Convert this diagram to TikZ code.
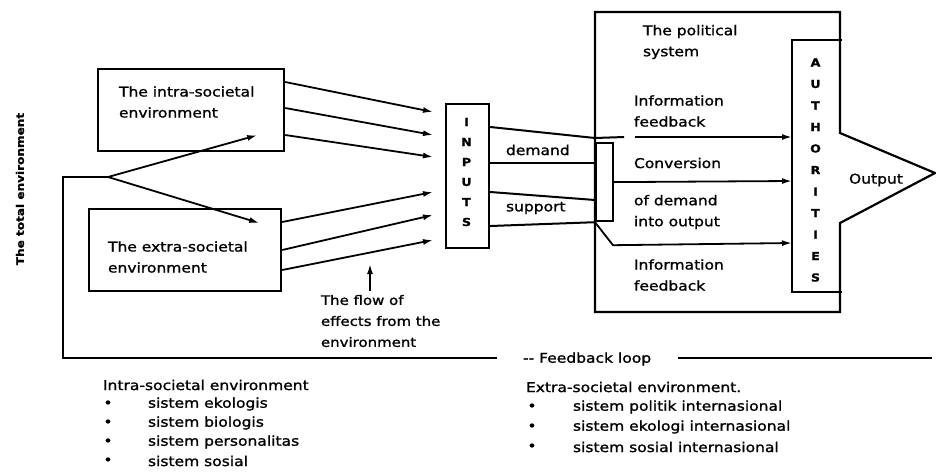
\documentclass[tikz,border=0pt]{standalone}
\usepackage{fontspec}
\setmainfont{DejaVu Sans}[FakeStretch=1.15,FakeBold=1.2]
\usetikzlibrary{arrows.meta,calc}
\begin{document}
\begin{tikzpicture}[x=1pt,y=-1pt,line width=2pt,
  box/.style={draw,line width=2.2pt,inner sep=0pt},
  arr/.style={-{Latex[length=10pt,width=6pt]},line width=1.8pt},
  txt/.style={font=\fontsize{13.5}{21}\selectfont,align=left,inner sep=0pt,anchor=west},
  small/.style={font=\fontsize{11}{12}\selectfont\bfseries,inner sep=0pt},
  bul/.style={font=\fontsize{13.5}{16}\selectfont,inner sep=0pt}]
\useasboundingbox (0,0) rectangle (936,472);
\fill[white] (0,0) rectangle (936,472);

% environment boxes
\node[box,minimum width=186pt,minimum height=82pt,anchor=north west] (intra) at (97,68) {};
\node[box,minimum width=192pt,minimum height=82pt,anchor=north west] (extra) at (88,208) {};
\node[txt] (intratxt) at (118,102) {The intra-societal\\environment};
\node[txt] (extratxt) at (107,257) {The extra-societal\\environment};

% inputs box
\node[box,minimum width=43pt,minimum height=144pt,anchor=north west] (inputs) at (445,103) {};
\foreach \l [count=\i] in {I,N,P,U,T,S}
  \node[small] (in\i) at (466.5,102+20*\i) {\l};

% arrows from environments to inputs
\draw[arr] ($(intra.north east)+(0,14)$) -- ($(inputs.north west)+(-12,9)$);
\draw[arr] ($(intra.north east)+(0,40)$) -- ($(inputs.north west)+(-12,32)$);
\draw[arr] ($(intra.north east)+(0,67)$) -- ($(inputs.north west)+(-12,54)$);
\draw[arr] ($(extra.north east)+(0,14)$) -- ($(inputs.north west)+(-12,89)$);
\draw[arr] ($(extra.north east)+(0,42)$) -- ($(inputs.north west)+(-12,112)$);
\draw[arr] ($(extra.north east)+(0,62)$) -- ($(inputs.north west)+(-12,137)$);

% flow of effects
\coordinate (flowbot) at (370,291);
\draw[arr] (flowbot) -- (370,264);
\node[txt,anchor=north west,font=\fontsize{13}{21}\selectfont] (flow) at (320,294) {The flow of\\effects from the\\environment};

% political system outline
\draw[line width=2.2pt] (595,12) -- (840,12) -- (840,133) -- (935,173) -- (840,223) -- (840,312) -- (595,312) -- cycle;
\node[txt] (output) at (848,180) {Output};

% authorities
\node[inner sep=0pt,minimum width=48pt,minimum height=250pt,anchor=north west] (auth) at (792,40) {};
\draw[line width=2.2pt] (auth.north east) -- (auth.north west) -- (auth.south west) -- (auth.south east);
\foreach \l [count=\i] in {A,U,T,H,O,R,I,T,I,E,S}
  \node[small] (au\i) at (815.5,41+21.5*\i) {\l};

% conversion box
\node[box,minimum width=17pt,minimum height=78pt,anchor=north west] (conv) at (595,142) {};

% inputs to conversion
\draw ($(inputs.north east)+(0,24)$) -- ($(conv.north west)+(0,-4)$) -- ($(conv.north east)+(10,-5)$);
\draw ($(inputs.north east)+(0,60)$) -- ($(conv.north west)+(0,21)$);
\draw ($(inputs.north east)+(0,89)$) -- ($(conv.north west)+(0,58)$);
\draw ($(inputs.north east)+(0,123)$) -- ($(conv.south west)+(0,0)$);
\node[txt] (demand) at (505,150) {demand};
\node[txt] (support) at (505,208) {support};

% internal arrows
\draw[arr] ($(conv.north east)+(21,-5)$) -- ($(auth.north west)+(0,97)$);
\draw[arr] (conv.east) -- ($(auth.north west)+(0,141)$);
\draw[arr] (conv.south west) -- ($(conv.south west)+(18,23)$) -- ($(auth.north west)+(0,203)$);

% political system texts
\node[txt] (ps) at (642,42) {The political\\system};
\node[txt] (fb1) at (633,111) {Information\\feedback};
\node[txt] (cv1) at (633,163) {Conversion};
\node[txt] (cv2) at (633,212) {of demand\\into output};
\node[txt] (fb2) at (633,275) {Information\\feedback};

% feedback loop
\coordinate (fb) at (108,177);
\coordinate (fbl) at (63,177);
\coordinate (fbc) at (63,358);
\coordinate (fbm) at (497,358);
\coordinate (fbr) at (678,358);
\coordinate (fbe) at (932,358);
\draw (fb) -- (fbl) -- (fbc) -- (fbm);
\draw (fbr) -- (fbe);
\node[txt] (fbloop) at (522,359) {-{}- Feedback loop};
\draw[arr] (fb) -- ($(intra.south east)+(-28,-17)$);
\draw[arr] (fb) -- ($(extra.north east)+(-23,15)$);

% total environment
\node[rotate=90,font=\fontsize{10.5}{12}\selectfont\bfseries,inner sep=0pt] (total) at (20,189) {The total environment};

% legends
\node[txt] (lh) at (102,385) {Intra-societal environment};
\foreach \t [count=\i] in {sistem ekologis,sistem biologis,sistem personalitas,sistem sosial}{
  \node[bul] (lb\i) at (108,385+19*\i) {•};
  \node[txt] (li\i) at (147,385+19*\i) {\t};
}
\node[txt] (rh) at (525,387) {Extra-societal environment.};
\foreach \t [count=\i] in {sistem politik internasional,sistem ekologi internasional,sistem sosial internasional}{
  \node[bul] (rb\i) at (532,387+20*\i) {•};
  \node[txt] (ri\i) at (572,387+20*\i) {\t};
}
\end{tikzpicture}
\end{document}
